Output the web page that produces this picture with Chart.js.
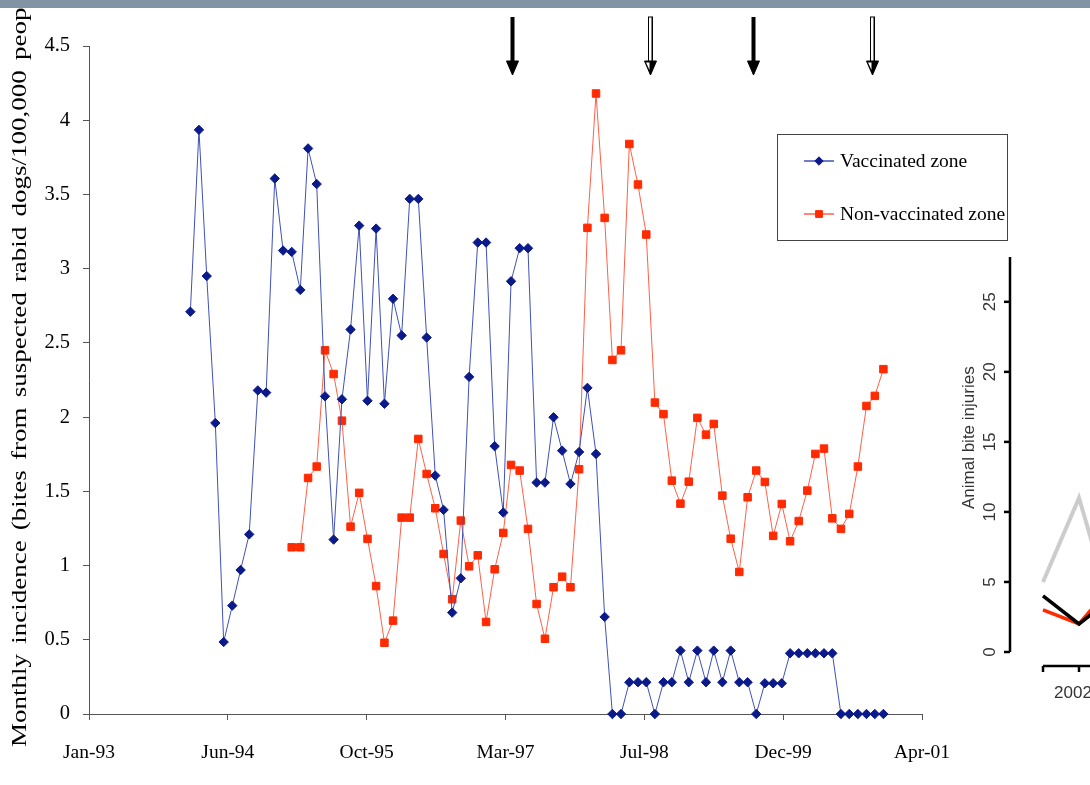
<!DOCTYPE html>
<html>
<head>
<meta charset="utf-8">
<script src="https://cdn.jsdelivr.net/npm/chart.js@4.4.1/dist/chart.umd.min.js"></script>
<style>
  html, body { margin: 0; padding: 0; background: #fff; overflow: hidden; width: 1090px; height: 785px; }
  #wrap { position: relative; width: 1090px; height: 785px; overflow: hidden; }
  #topbar { position: absolute; left: 0; top: 0; width: 1090px; height: 8px; background: #8194a4; }
  #main { position: absolute; left: 0; top: 0; }
  #inset { position: absolute; left: 940px; top: 240px; }
</style>
</head>
<body>
<div id="wrap">
  <canvas id="inset" width="300" height="470"></canvas>
  <canvas id="main" width="1090" height="785"></canvas>
  <div id="topbar"></div>
</div>
<script>
// ---- monthly incidence data ----
const AXIS_TICKS = ['Jan-93', 'Jun-94', 'Oct-95', 'Mar-97', 'Jul-98', 'Dec-99', 'Apr-01'];
const TICK_STEP_DAYS = 500;

const vaccinatedStart = [1994, 1];   // first month of the series (year, month)
const vaccinated = [
  2.71, 3.935, 2.95, 1.96, 0.485, 0.73, 0.97, 1.21, 2.18, 2.165,
  3.607, 3.122, 3.113, 2.857, 3.81, 3.57, 2.14, 1.175, 2.12, 2.59,
  3.29, 2.11, 3.27, 2.09, 2.797, 2.55, 3.47, 3.47, 2.536, 1.606,
  1.375, 0.683, 0.914, 2.271, 3.176, 3.176, 1.804, 1.357, 2.915, 3.138,
  3.138, 1.559, 1.559, 1.999, 1.774, 1.55, 1.765, 2.197, 1.752, 0.654,
  0, 0, 0.214, 0.214, 0.214, 0, 0.214, 0.214, 0.427, 0.214,
  0.427, 0.214, 0.427, 0.214, 0.427, 0.214, 0.214, 0, 0.207, 0.207,
  0.207, 0.409, 0.409, 0.409, 0.409, 0.409, 0.409, 0, 0, 0,
  0, 0, 0
];

const nonVaccinatedStart = [1995, 1];
const nonVaccinated = [
  1.123, 1.123, 1.59, 1.667, 2.45, 2.29, 1.976, 1.262, 1.49, 1.18,
  0.862, 0.48, 0.629, 1.323, 1.323, 1.853, 1.617, 1.386, 1.078, 0.773,
  1.303, 0.995, 1.069, 0.62, 0.975, 1.22, 1.678, 1.64, 1.247, 0.741,
  0.507, 0.854, 0.925, 0.854, 1.649, 3.275, 4.18, 3.342, 2.385, 2.45,
  3.84, 3.567, 3.23, 2.098, 2.02, 1.572, 1.417, 1.565, 1.995, 1.882,
  1.954, 1.471, 1.181, 0.957, 1.46, 1.64, 1.563, 1.2, 1.415, 1.164,
  1.30, 1.505, 1.752, 1.788, 1.318, 1.247, 1.348, 1.667, 2.075, 2.143,
  2.323
];

// vaccination campaigns marked by arrows (outlined = hollow arrow)
const campaignDates = ['1997-03-03', '1998-07-13', '1999-07-19', '2000-09-20'];
const campaignOutlined = [false, true, false, true];

const Y_TITLE = 'Monthly incidence (bites from suspected rabid dogs/100,000 people)';

// ---- inset: animal bite injuries ----
const insetYears = ['2001', '2002', '2003'];
const insetGrey = [5, 11, 2.2];
const insetBlack = [4, 2, 4];
const insetRed = [3, 2, 5];

// ---- helpers ----
const ORIGIN = Date.UTC(1993, 0, 1);
const DAY = 86400000;
function monthDay(y, m) { return (Date.UTC(y, m - 1, 1) - ORIGIN) / DAY; }
function dateDay(s) { const p = s.split('-').map(Number); return (Date.UTC(p[0], p[1] - 1, p[2]) - ORIGIN) / DAY; }
function series(start, values) { return values.map((v, i) => ({ x: monthDay(start[0], start[1] + i), y: v })); }

const SERIF = '"Liberation Serif", "Times New Roman", serif';
const SANS = '"Liberation Sans", Arial, sans-serif';

const BLUE_LINE = '#3f50b8', BLUE_PT = '#0b1a8a';
const RED_LINE = '#ff6048', RED_PT = '#ff2a00';

const mainDecor = {
  id: 'mainDecor',
  afterDraw(chart) {
    const ctx = chart.ctx;
    const xs = chart.scales.x;

    // rotated axis title, narrowed glyphs, spread along the full height
    ctx.save();
    ctx.translate(20, 747);
    ctx.rotate(-Math.PI / 2);
    ctx.scale(1, 0.8);
    ctx.font = '27px ' + SERIF;
    ctx.fillStyle = '#000';
    ctx.textBaseline = 'middle';
    ctx.textAlign = 'left';
    const words = Y_TITLE.split(' ');
    const visible = words.slice(0, -1).reduce((s, w) => s + ctx.measureText(w).width, 0) + ctx.measureText('peopl').width;
    const gap = (747 - visible) / (words.length - 1);
    let pos = 0;
    words.forEach(w => { ctx.fillText(w, pos, 0); pos += ctx.measureText(w).width + gap; });
    ctx.restore();

    // campaign arrows
    campaignDates.forEach((d, i) => {
      const x = Math.round(xs.getPixelForValue(dateDay(d))) + 0.5;
      ctx.save();
      ctx.strokeStyle = '#000';
      ctx.lineWidth = 1;
      if (campaignOutlined[i]) {
        ctx.fillStyle = '#fff';
        ctx.fillRect(x - 2, 17, 4, 46);
        ctx.strokeRect(x - 2, 17, 4, 46);
        ctx.fillStyle = '#000';
        ctx.fillRect(x + 1, 17, 1.5, 46);
      } else {
        ctx.fillStyle = '#000';
        ctx.fillRect(x - 2, 17, 4, 46);
      }
      ctx.beginPath();
      ctx.moveTo(x - 6, 61);
      ctx.lineTo(x + 6, 61);
      ctx.lineTo(x, 75);
      ctx.closePath();
      ctx.fillStyle = '#000';
      ctx.fill();
      ctx.stroke();
      if (campaignOutlined[i]) {
        ctx.beginPath();
        ctx.moveTo(x - 4.5, 62.5);
        ctx.lineTo(x - 1, 62.5);
        ctx.lineTo(x - 1, 70);
        ctx.closePath();
        ctx.fillStyle = '#fff';
        ctx.fill();
      }
      ctx.restore();
    });

    // legend box
    ctx.save();
    ctx.strokeStyle = '#444';
    ctx.lineWidth = 1;
    ctx.strokeRect(777.5, 134.5, 230, 106);
    ctx.font = '19.5px ' + SERIF;
    ctx.textBaseline = 'middle';
    chart.data.datasets.forEach((ds, i) => {
      const y = 161 + i * 53;
      ctx.strokeStyle = ds.borderColor;
      ctx.lineWidth = 1.5;
      ctx.beginPath();
      ctx.moveTo(804, y);
      ctx.lineTo(834, y);
      ctx.stroke();
      ctx.fillStyle = ds.pointBackgroundColor;
      ctx.strokeStyle = ds.pointBorderColor;
      ctx.lineWidth = 1;
      Chart.helpers.drawPoint(ctx, { pointStyle: ds.pointStyle, radius: ds.pointRadius - 0.5, borderWidth: 1 }, 819, y);
      ctx.fillStyle = '#000';
      ctx.fillText(ds.label, 840, y + 1);
    });
    ctx.restore();
  }
};

new Chart(document.getElementById('main'), {
  type: 'line',
  data: {
    datasets: [
      {
        label: 'Vaccinated zone',
        data: series(vaccinatedStart, vaccinated),
        borderColor: BLUE_LINE,
        borderWidth: 1,
        pointStyle: 'rectRot',
        pointRadius: 4.7,
        pointBackgroundColor: BLUE_PT,
        pointBorderColor: BLUE_PT,
        pointBorderWidth: 1,
        tension: 0,
        clip: false
      },
      {
        label: 'Non-vaccinated zone',
        data: series(nonVaccinatedStart, nonVaccinated),
        borderColor: RED_LINE,
        borderWidth: 1,
        pointStyle: 'rect',
        pointRadius: 5.3,
        pointBackgroundColor: RED_PT,
        pointBorderColor: RED_PT,
        pointBorderWidth: 1,
        tension: 0,
        clip: false
      }
    ]
  },
  options: {
    responsive: false,
    animation: false,
    devicePixelRatio: 1,
    layout: { padding: { left: 0, top: 46, right: 168, bottom: 0 } },
    plugins: { legend: { display: false }, tooltip: { enabled: false } },
    scales: {
      x: {
        type: 'linear',
        min: 0,
        max: TICK_STEP_DAYS * (AXIS_TICKS.length - 1),
        afterFit(scale) { scale.height = 71; },
        border: { color: '#555', width: 1 },
        grid: { drawOnChartArea: false, drawTicks: true, tickLength: 6, color: '#555' },
        ticks: {
          stepSize: TICK_STEP_DAYS,
          autoSkip: false,
          maxRotation: 0,
          padding: 21,
          color: '#000',
          font: { family: SERIF, size: 19.5 },
          callback: v => AXIS_TICKS[Math.round(v / TICK_STEP_DAYS)] || ''
        }
      },
      y: {
        min: 0,
        max: 4.5,
        afterFit(scale) { scale.width = 89; },
        border: { color: '#555', width: 1 },
        grid: { drawOnChartArea: false, drawTicks: true, tickLength: 6, color: '#555' },
        ticks: {
          stepSize: 0.5,
          padding: 13,
          color: '#000',
          font: { family: SERIF, size: 20.5 },
          callback: v => String(Math.round(v * 10) / 10)
        }
      }
    }
  },
  plugins: [mainDecor]
});

// ---- inset chart ----
const insetAxes = {
  id: 'insetAxes',
  afterDraw(chart) {
    const ctx = chart.ctx, xs = chart.scales.x, ys = chart.scales.y;
    const left = chart.chartArea.left;
    ctx.save();
    ctx.strokeStyle = '#000';
    ctx.fillStyle = '#333';
    ctx.lineWidth = 2.5;
    // y axis
    ctx.beginPath();
    ctx.moveTo(left, ys.getPixelForValue(ys.max));
    ctx.lineTo(left, ys.getPixelForValue(0));
    ctx.stroke();
    ctx.font = '17px ' + SANS;
    ctx.textAlign = 'center';
    ctx.textBaseline = 'middle';
    for (let v = 0; v <= 25; v += 5) {
      const y = ys.getPixelForValue(v);
      ctx.beginPath();
      ctx.moveTo(left - 6, y);
      ctx.lineTo(left, y);
      ctx.stroke();
      ctx.save();
      ctx.translate(left - 20, y);
      ctx.rotate(-Math.PI / 2);
      ctx.fillText(String(v), 0, 0);
      ctx.restore();
    }
    ctx.save();
    ctx.translate(left - 41, ys.getPixelForValue(15.3));
    ctx.rotate(-Math.PI / 2);
    ctx.fillText('Animal bite injuries', 0, 0);
    ctx.restore();
    // x axis
    const ay = ys.getPixelForValue(0) + 14;
    ctx.beginPath();
    ctx.moveTo(xs.getPixelForValue(0), ay);
    ctx.lineTo(xs.getPixelForValue(insetYears.length - 1), ay);
    ctx.stroke();
    insetYears.forEach((yr, i) => {
      const x = xs.getPixelForValue(i);
      ctx.beginPath();
      ctx.moveTo(x, ay);
      ctx.lineTo(x, ay + 6);
      ctx.stroke();
      if (i % 2 === 1) ctx.fillText(yr, x - 6, ay + 27);
    });
    ctx.restore();
  }
};

function insetSeries(vals) { return vals.map((v, i) => ({ x: i, y: v })); }

new Chart(document.getElementById('inset'), {
  type: 'line',
  data: {
    datasets: [
      { data: insetSeries(insetBlack), borderColor: '#000', borderWidth: 3.5, pointRadius: 0, tension: 0 },
      { data: insetSeries(insetRed), borderColor: '#ff2a00', borderWidth: 3.5, pointRadius: 0, tension: 0 },
      { data: insetSeries(insetGrey), borderColor: '#cccccc', borderWidth: 4, pointRadius: 0, tension: 0 }
    ]
  },
  options: {
    responsive: false,
    animation: false,
    devicePixelRatio: 1,
    layout: { padding: { left: 70, top: 17, right: 0, bottom: 58 } },
    plugins: { legend: { display: false }, tooltip: { enabled: false } },
    scales: {
      x: { type: 'linear', display: false, min: -33 / 36, max: -33 / 36 + 230 / 36 },
      y: { display: false, min: 0, max: 28.2 }
    }
  },
  plugins: [insetAxes]
});
</script>
</body>
</html>
